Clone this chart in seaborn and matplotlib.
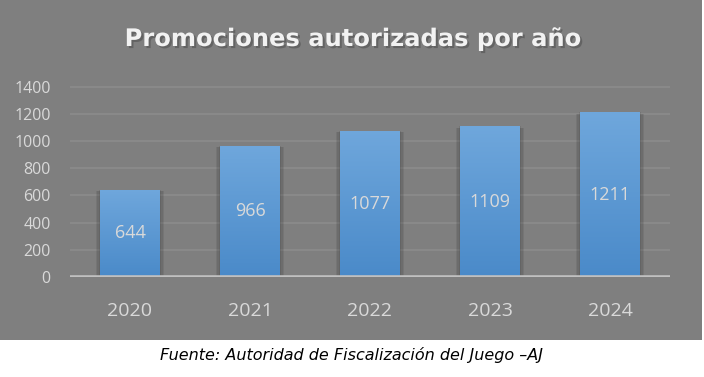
import matplotlib
matplotlib.use("Agg")
import matplotlib.pyplot as plt
import matplotlib.patheffects as pe
from matplotlib.patches import Rectangle
import numpy as np
import pandas as pd
import seaborn as sns

# data
years = ["2020", "2021", "2022", "2023", "2024"]
promociones = [644, 966, 1077, 1109, 1211]
y_ticks = [0, 200, 400, 600, 800, 1000, 1200, 1400]

title = "Promociones autorizadas por año"
caption = "Fuente: Autoridad de Fiscalización del Juego \u2013AJ"

BG = "#7f7f7f"
TXT = "#d9d9d9"

sns.set_theme(style="white")
plt.rcParams["font.family"] = ["Open Sans", "DejaVu Sans"]

W, H = 704, 377
fig = plt.figure(figsize=(W / 100, H / 100), dpi=100, facecolor="white")

# gray panel behind the chart
fig.add_artist(Rectangle((0, 1 - 340 / H), 702 / W, 340 / H,
                         transform=fig.transFigure, facecolor=BG,
                         edgecolor="none", zorder=0))

ax = fig.add_axes([70 / W, 1 - 277 / H, 600 / W, (277 - 80) / H])
ax.set_facecolor("none")

df = pd.DataFrame({"year": years, "value": promociones})
sns.barplot(data=df, x="year", y="value", width=0.5, color="#5b9bd5",
            saturation=1, linewidth=0, edgecolor="none", ax=ax, zorder=3)

ax.set_ylim(0, 1450)
ax.set_xlim(-0.5, len(years) - 0.5)
ax.set_yticks(y_ticks)
ax.set_yticklabels([str(t) for t in y_ticks])
ax.grid(axis="y", color="#8c8c8c", linewidth=1.2, zorder=0)
ax.set_axisbelow(True)
for s in ax.spines.values():
    s.set_visible(False)
ax.axhline(0, color="#c0c0c0", linewidth=2.6, zorder=4)
ax.tick_params(axis="y", length=0, pad=14, labelsize=11.5, labelcolor=TXT)
ax.tick_params(axis="x", length=0, pad=18, labelsize=14, labelcolor=TXT)
ax.set_xlabel("")
ax.set_ylabel("")

# soft shadow, vertical gradient and centred value on every bar
shadow = [pe.SimplePatchShadow(offset=o, alpha=0.12, shadow_rgbFace="#303030")
          for o in [(-3, -1), (3, -1), (-2, -1), (2, -1), (-1, 0), (1, 0)]]
grad = np.linspace(0, 1, 256).reshape(-1, 1)
cmap = matplotlib.colors.LinearSegmentedColormap.from_list(
    "bar", ["#4a8ac9", "#6fa7dc"])
for bar, val in zip(ax.patches, promociones):
    x0, w, h = bar.get_x(), bar.get_width(), bar.get_height()
    bar.set_path_effects(shadow + [pe.Normal()])
    im = ax.imshow(grad, extent=(x0, x0 + w, 0, h), origin="lower",
                   cmap=cmap, aspect="auto", zorder=3.5)
    im.set_clip_path(bar)
    ax.text(x0 + w / 2, h / 2, str(val), ha="center", va="center",
            fontsize=13, color=TXT, zorder=5)

fig.text(0.5, 1 - 39 / H, title, ha="center", va="center", fontsize=17.4,
         fontweight="bold", color="#f2f2f2", family=["DejaVu Sans"],
         path_effects=[pe.withSimplePatchShadow(offset=(1.5, -1.5),
                                                alpha=0.5)])

fig.text(0.5, 1 - 355 / H, caption, ha="center", va="center", fontsize=11.5,
         style="italic", color="black", family=["DejaVu Sans"])

fig.savefig("out.png", dpi=100, facecolor="white")
